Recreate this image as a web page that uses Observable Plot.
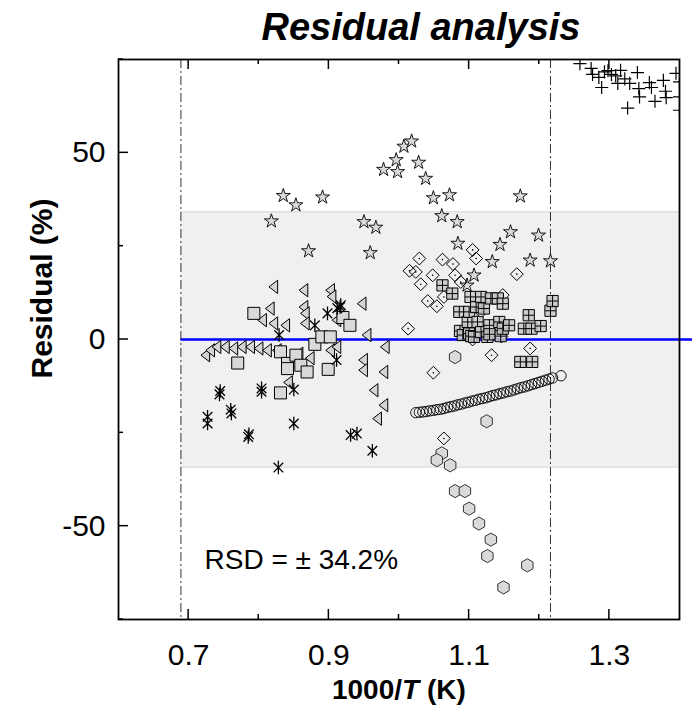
<!DOCTYPE html>
<html><head><meta charset="utf-8">
<script src="https://cdn.jsdelivr.net/npm/d3@7"></script>
<script src="https://cdn.jsdelivr.net/npm/@observablehq/plot@0.6"></script>
<style>body{margin:0;background:#fff}#chart svg{display:block}</style>
</head><body><div id="chart"></div>
<script>
// axes
const xDomain = [0.6, 1.4];
const yDomain = [-75, 75];
const xMajorTicks = [0.7, 0.9, 1.1, 1.3];
const xMinorTicks = [0.8, 1.0, 1.2];
const yMajorTicks = [-50, 0, 50];
const yMinorTicks = [-75, -25, 25, 75];
const rsd = 34.2;
const validityLimits = [0.689, 1.216];

// series: [1000/T, residual %]
const stars = [[0.818,31.7],[0.835,38.5],[0.853,36.0],[0.871,23.7],[0.891,38.1],[0.950,31.5],[0.959,23.2],[0.967,30.0],[0.978,45.5],[0.996,48.1],[0.998,44.9],[1.007,51.7],[1.018,53.1],[1.028,47.4],[1.038,43.1],[1.049,37.9],[1.061,33.1],[1.072,38.7],[1.083,31.5],[1.084,25.7],[1.097,14.5],[1.107,17.2],[1.133,20.8],[1.144,25.4],[1.159,28.8],[1.173,38.4],[1.187,21.2],[1.199,27.9],[1.216,21.0]];
const pluses = [[1.258,73.9],[1.274,72.6],[1.276,71.0],[1.285,70.2],[1.289,67.5],[1.293,71.7],[1.298,72.0],[1.303,71.0],[1.309,70.6],[1.312,68.6],[1.316,72.1],[1.322,69.8],[1.326,62.0],[1.329,68.6],[1.340,71.5],[1.342,67.2],[1.343,65.0],[1.357,68.8],[1.360,67.5],[1.365,63.8],[1.377,69.4],[1.380,66.5],[1.381,64.8],[1.395,71.3],[1.400,69.0],[1.400,65.0],[1.400,61.4]];
const diamonds = [[1.013,2.9],[1.015,18.4],[1.024,18.1],[1.029,21.7],[1.031,14.8],[1.041,10.3],[1.048,17.2],[1.049,-8.9],[1.054,8.9],[1.062,21.4],[1.064,11.4],[1.064,-26.5],[1.077,20.2],[1.080,17.2],[1.088,15.4],[1.105,0.0],[1.105,24.0],[1.110,21.7],[1.117,7.4],[1.132,-4.2],[1.146,0.8],[1.148,11.9],[1.168,17.5],[1.187,-2.4]];
const gridSquares = [[1.062,14.5],[1.076,12.3],[1.086,7.4],[1.087,2.3],[1.091,1.2],[1.098,4.7],[1.100,7.4],[1.100,1.6],[1.102,11.4],[1.103,0.9],[1.107,0.7],[1.110,8.7],[1.112,4.7],[1.117,11.4],[1.117,2.0],[1.121,8.3],[1.126,0.7],[1.129,3.8],[1.129,1.4],[1.131,11.0],[1.141,11.0],[1.143,4.7],[1.145,0.9],[1.148,9.6],[1.148,2.9],[1.157,3.8],[1.173,-6.0],[1.178,2.9],[1.185,6.5],[1.189,2.9],[1.190,-6.0],[1.202,3.6],[1.216,7.7],[1.219,10.3]];
const circles = [[1.024,-19.6],[1.029,-19.5],[1.034,-19.4],[1.039,-19.3],[1.044,-19.1],[1.049,-19.0],[1.054,-18.8],[1.059,-18.7],[1.064,-18.5],[1.069,-18.2],[1.074,-18.0],[1.079,-17.8],[1.084,-17.5],[1.089,-17.3],[1.094,-17.0],[1.099,-16.8],[1.104,-16.5],[1.109,-16.3],[1.114,-16.0],[1.119,-15.8],[1.124,-15.6],[1.129,-15.3],[1.134,-15.0],[1.139,-14.8],[1.144,-14.5],[1.149,-14.3],[1.154,-14.0],[1.159,-13.8],[1.164,-13.5],[1.169,-13.2],[1.174,-12.9],[1.179,-12.7],[1.184,-12.4],[1.189,-12.1],[1.194,-11.8],[1.199,-11.5],[1.204,-11.2],[1.209,-10.9],[1.214,-10.6],[1.219,-10.3],[1.231,-9.7]];
const hexagons = [[1.080,-4.7],[1.125,-21.9],[1.061,-30.5],[1.054,-32.3],[1.073,-33.7],[1.080,-40.6],[1.094,-40.6],[1.100,-45.3],[1.114,-49.3],[1.131,-53.6],[1.126,-58.0],[1.183,-60.5],[1.149,-66.4]];
const triangles = [[0.725,-4.2],[0.732,-2.9],[0.741,-2.0],[0.753,-2.0],[0.765,-2.4],[0.777,-2.0],[0.789,-2.0],[0.801,-2.4],[0.813,-2.9],[0.827,-2.9],[0.806,5.2],[0.817,8.3],[0.822,14.1],[0.822,4.3],[0.839,3.8],[0.843,-11.5],[0.858,-3.8],[0.865,13.2],[0.865,8.7],[0.867,7.0],[0.867,4.3],[0.874,-5.0],[0.903,-2.9],[0.903,13.2],[0.905,11.5],[0.912,5.2],[0.912,-2.0],[0.948,9.6],[0.955,1.2],[0.981,-2.0],[0.950,-5.5],[0.950,-8.2],[0.979,-8.7],[0.965,-13.6],[0.979,-17.6],[0.970,-21.2]];
const squares = [[0.770,-6.3],[0.793,7.0],[0.831,-3.3],[0.831,-14.3],[0.841,-6.4],[0.841,-7.8],[0.853,-4.2],[0.860,-6.9],[0.869,-8.7],[0.880,-1.3],[0.890,0.7],[0.902,0.7],[0.899,-8.0],[0.920,5.9],[0.930,3.8]];
const asterisks = [[0.727,-20.7],[0.727,-22.5],[0.744,-14.7],[0.745,-13.8],[0.760,-18.8],[0.761,-19.8],[0.785,-26.1],[0.786,-25.4],[0.804,-13.1],[0.804,-14.0],[0.828,-34.3],[0.829,1.2],[0.850,-13.4],[0.850,-22.5],[0.880,3.8],[0.898,7.0],[0.911,-5.5],[0.912,8.4],[0.916,8.7],[0.917,9.2],[0.931,-25.6],[0.940,-25.2],[0.962,-29.8]];

const rad = size => Math.sqrt(size / Math.PI);
const symSquare = {draw(c, s){const r = rad(s); c.moveTo(-r,-r); c.lineTo(r,-r); c.lineTo(r,r); c.lineTo(-r,r); c.closePath();}};
const symGrid = {draw(c, s){const r = rad(s); c.moveTo(-r,-r); c.lineTo(r,-r); c.lineTo(r,r); c.lineTo(-r,r); c.closePath(); c.moveTo(0,-r); c.lineTo(0,r); c.moveTo(-r,0); c.lineTo(r,0);}};
const symTri = {draw(c, s){const r = rad(s); c.moveTo(-r*0.9,0); c.lineTo(r*0.6,-r*1.15); c.lineTo(r*0.6,r*1.15); c.closePath();}};
const symAst = {draw(c, s){const r = rad(s), d = r * Math.SQRT1_2; c.moveTo(0,-r); c.lineTo(0,r); c.moveTo(-d,-d); c.lineTo(d,d); c.moveTo(-d,d); c.lineTo(d,-d);}};

const px = d => d[0], py = d => d[1];
const font = "'Liberation Sans', Arial, Helvetica, sans-serif";
const W = 692, H = 724, mT = 59, mB = 105, mL = 118, mR = 13;

const chart = Plot.plot({
  width: W, height: H,
  marginTop: mT, marginBottom: mB, marginLeft: mL, marginRight: mR,
  x: {domain: xDomain, axis: null},
  y: {domain: yDomain, axis: null},
  style: {fontFamily: font, background: "white", color: "black"},
  marks: [
    Plot.rect([{x1: validityLimits[0], x2: xDomain[1], y1: -rsd, y2: rsd}], {x1: "x1", x2: "x2", y1: "y1", y2: "y2", fill: "#f0f0f0"}),
    Plot.ruleY([-rsd, rsd], {x1: validityLimits[0], x2: xDomain[1], stroke: "#d9d9d9", strokeWidth: 1.2}),
    Plot.ruleX(validityLimits, {stroke: "#333", strokeWidth: 1, strokeDasharray: "9,3,2,3"}),
    Plot.ruleY([0], {x1: validityLimits[0], x2: xDomain[1], insetRight: -14, stroke: "#0000ff", strokeWidth: 2.5}),
    Plot.dot(stars, {x: px, y: py, symbol: "star", r: 4.4, fill: "#dadada", stroke: "black", strokeWidth: 0.9}),
    Plot.dot(pluses, {x: px, y: py, symbol: "plus", r: 4.3, stroke: "black", strokeWidth: 1.2, clip: true}),
    Plot.dot(diamonds, {x: px, y: py, symbol: "diamond2", r: 5.8, fill: "none", stroke: "black", strokeWidth: 1}),
    Plot.dot(diamonds, {x: px, y: py, r: 0.8, fill: "black"}),
    Plot.dot(gridSquares, {x: px, y: py, symbol: symGrid, r: 5.6, fill: "#c8c8c8", fillOpacity: 0.85, stroke: "black", strokeWidth: 1}),
    Plot.dot(circles, {x: px, y: py, r: 5.2, fill: "none", stroke: "black", strokeWidth: 0.9}),
    Plot.dot(hexagons, {x: px, y: py, symbol: "hexagon", r: 5.7, fill: "#dadada", stroke: "#333", strokeWidth: 1}),
    Plot.dot(triangles, {x: px, y: py, symbol: symTri, r: 5.8, fill: "#d4d4d4", stroke: "black", strokeWidth: 1}),
    Plot.dot(squares, {x: px, y: py, symbol: symSquare, r: 6, fill: "#d9d9d9", stroke: "black", strokeWidth: 1}),
    Plot.dot(asterisks, {x: px, y: py, symbol: symAst, r: 6.8, fill: "none", stroke: "black", strokeWidth: 1.3}),
    Plot.frame({stroke: "black", strokeWidth: 1.8}),
    // tick labels
    Plot.text(xMajorTicks, {x: d => d, frameAnchor: "bottom", dy: 36, text: d => d.toFixed(1), fontSize: 30, textAnchor: "middle", lineAnchor: "middle", fill: "black"}),
    Plot.text(yMajorTicks, {y: d => d, frameAnchor: "left", dx: -13, textAnchor: "end", text: d => String(d), fontSize: 30, lineAnchor: "middle", fill: "black"}),
    // annotation
    Plot.text(["RSD = \u00b1 34.2%"], {frameAnchor: "bottom-left", dx: 86, dy: -59, textAnchor: "start", lineAnchor: "middle", fontSize: 28, fill: "black"}),
    // titles
    Plot.text(["Residual analysis"], {frameAnchor: "top", dx: 22, dy: -32, fontSize: 38, fontWeight: "bold", fontStyle: "italic", textAnchor: "middle", lineAnchor: "middle", fill: "black"}),
    Plot.text(["Residual (%)"], {frameAnchor: "left", rotate: -90, dx: -76, dy: -51, textAnchor: "middle", fontSize: 30, fontWeight: "bold", lineAnchor: "middle", fill: "black"}),
    Plot.text(["1000/"], {frameAnchor: "bottom", dx: 3, dy: 71, textAnchor: "end", fontSize: 28, fontWeight: "bold", lineAnchor: "middle", fill: "black"}),
    Plot.text(["T"], {frameAnchor: "bottom", dx: 3, dy: 71, textAnchor: "start", fontSize: 28, fontWeight: "bold", fontStyle: "italic", lineAnchor: "middle", fill: "black"}),
    Plot.text(["(K)"], {frameAnchor: "bottom", dx: 28, dy: 71, textAnchor: "start", fontSize: 28, fontWeight: "bold", lineAnchor: "middle", fill: "black"})
  ]
});
document.getElementById("chart").appendChild(chart);

// inward ticks, positioned with the plot's own x/y scales
const sx = chart.scale("x"), sy = chart.scale("y");
const [fx0, fx1] = sx.range, [fy0, fy1] = sy.range; // fy0 = bottom, fy1 = top
const tg = d3.select(chart).append("g").attr("stroke", "black").attr("stroke-width", 1.5);
const addX = (vals, len) => vals.forEach(v => {
  const xp = sx.apply(v);
  tg.append("line").attr("x1", xp).attr("x2", xp).attr("y1", fy0).attr("y2", fy0 - len);
  tg.append("line").attr("x1", xp).attr("x2", xp).attr("y1", fy1).attr("y2", fy1 + len);
});
const addY = (vals, len) => vals.forEach(v => {
  const yp = sy.apply(v);
  tg.append("line").attr("x1", fx0).attr("x2", fx0 + len).attr("y1", yp).attr("y2", yp);
});
addX(xMajorTicks, 10); addX(xMinorTicks, 5);
addY(yMajorTicks, 10); addY(yMinorTicks, 5);
</script>
</body></html>
